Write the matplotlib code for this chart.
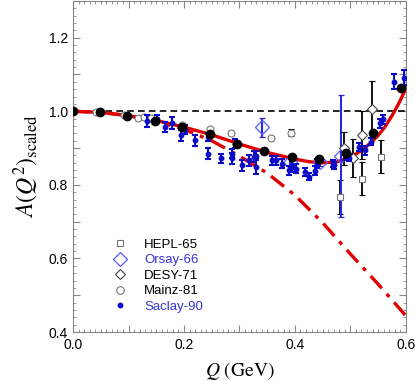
import numpy as np
import matplotlib
matplotlib.use('Agg')
import matplotlib.pyplot as plt
from matplotlib.ticker import MultipleLocator, FuncFormatter
from matplotlib.lines import Line2D

plt.rcParams['font.family'] = ['Liberation Sans', 'DejaVu Sans']
plt.rcParams['mathtext.fontset'] = 'stix'

# theory curves
q_full = [0.0, 0.05, 0.1, 0.15, 0.2, 0.25, 0.3, 0.35, 0.4, 0.425, 0.45, 0.475, 0.5,
          0.525, 0.55, 0.5625, 0.575, 0.5875, 0.6]
a_full = [1.0, 0.997, 0.988, 0.975, 0.957, 0.936, 0.911, 0.888, 0.870, 0.863, 0.860,
          0.862, 0.875, 0.898, 0.934, 0.958, 0.988, 1.022, 1.062]
q_lo = [0.0, 0.05, 0.1, 0.15, 0.2, 0.25, 0.3, 0.35, 0.4, 0.45, 0.5, 0.55, 0.6]
a_lo = [1.0, 0.997, 0.988, 0.973, 0.951, 0.920, 0.878, 0.832, 0.772, 0.697, 0.612, 0.530, 0.444]

# black points on the curve
q_fit = [0.0, 0.049, 0.098, 0.148, 0.197, 0.246, 0.295, 0.344, 0.394, 0.443, 0.492, 0.541, 0.591]
a_fit = [1.0, 0.997, 0.988, 0.974, 0.958, 0.939, 0.912, 0.891, 0.876, 0.870, 0.887, 0.941, 1.064]

# HEPL-65
q_hepl = [0.481, 0.521, 0.556]
a_hepl = [0.767, 0.817, 0.876]
e_hepl = [0.047, 0.045, 0.045]

# Orsay-66
q_orsay = [0.341, 0.392, 0.445, 0.483]
a_orsay = [0.956, 0.862, 0.862, 0.878]
e_orsay = [0.027, 0.010, 0.010, 0.165]

# DESY-71
q_desy = [0.488, 0.505, 0.521, 0.539]
a_desy = [0.899, 0.873, 0.935, 1.005]
e_desy = [0.046, 0.052, 0.066, 0.078]

# Mainz-81
q_mainz = [0.042, 0.091, 0.117, 0.128, 0.141, 0.197, 0.246, 0.285, 0.357, 0.393]
a_mainz = [0.997, 0.990, 0.982, 0.985, 0.981, 0.962, 0.952, 0.941, 0.928, 0.942]
e_mainz = [0.002, 0.002, 0.002, 0.002, 0.002, 0.003, 0.005, 0.005, 0.006, 0.009]

# Saclay-90
q_saclay = [0.133, 0.151, 0.165, 0.178, 0.194, 0.201, 0.219, 0.244, 0.244, 0.267,
            0.286, 0.287, 0.292, 0.304, 0.318, 0.327, 0.330, 0.330, 0.359, 0.366,
            0.377, 0.390, 0.394, 0.402, 0.419, 0.425, 0.437, 0.440, 0.468, 0.471,
            0.492, 0.497, 0.515, 0.527, 0.537, 0.554, 0.558, 0.579, 0.596]
a_saclay = [0.974, 0.980, 0.958, 0.968, 0.935, 0.950, 0.921, 0.930, 0.885, 0.872,
            0.885, 0.872, 0.912, 0.853, 0.867, 0.876, 0.849, 0.879, 0.867, 0.867,
            0.858, 0.840, 0.849, 0.844, 0.835, 0.822, 0.838, 0.858, 0.858, 0.853,
            0.880, 0.874, 0.903, 0.894, 0.917, 0.967, 0.978, 1.080, 1.091]
e_saclay = [0.016, 0.010, 0.014, 0.016, 0.015, 0.012, 0.015, 0.012, 0.015, 0.012,
            0.012, 0.015, 0.012, 0.015, 0.015, 0.015, 0.020, 0.012, 0.012, 0.012,
            0.012, 0.012, 0.015, 0.012, 0.012, 0.010, 0.012, 0.012, 0.010, 0.010,
            0.012, 0.010, 0.012, 0.012, 0.010, 0.012, 0.012, 0.020, 0.020]

blue = '#0a0ac8'
lblue = '#5a5aff'
red = '#e00000'

fig = plt.figure(figsize=(4.15, 3.81), dpi=100)
ax = fig.add_axes([0.176, 0.1286, 0.802, 0.869])

ax.plot([0, 0.6], [1.0, 1.0], color='black', lw=1.2, ls=(0, (4, 2.5)), zorder=2)
ax.plot(q_lo, a_lo, color=red, lw=2.4, ls=(0, (5, 2.2, 1.2, 2.2)), zorder=3)
ax.plot(q_full, a_full, color=red, lw=2.4, zorder=3)

ax.errorbar(q_hepl, a_hepl, yerr=e_hepl, fmt='s', ms=4.5, mfc='white', mec='#777777',
            mew=0.8, ecolor='black', elinewidth=1.3, capsize=2.5, capthick=1.3, zorder=4)
ax.errorbar(q_orsay, a_orsay, yerr=e_orsay, fmt='D', ms=7, mfc='none', mec=lblue,
            mew=0.9, ecolor='#2a2ad8', elinewidth=1.5, capsize=2.5, capthick=1.5, zorder=4)
ax.errorbar(q_desy, a_desy, yerr=e_desy, fmt='D', ms=5, mfc='white', mec='#444444',
            mew=0.8, ecolor='black', elinewidth=1.3, capsize=2.5, capthick=1.3, zorder=4)
ax.errorbar(q_mainz, a_mainz, yerr=e_mainz, fmt='o', ms=5, mfc='white', mec='#777777',
            mew=0.8, ecolor='black', elinewidth=1.3, capsize=2, capthick=1.3, zorder=4)
ax.errorbar(q_saclay, a_saclay, yerr=e_saclay, fmt='o', ms=3.2, mfc=blue, mec=blue,
            ecolor=blue, elinewidth=1.5, capsize=2.5, capthick=1.5, zorder=5)
ax.plot(q_fit, a_fit, 'o', ms=6, color='black', zorder=6)

ax.set_xlim(0, 0.6)
ax.set_ylim(0.4, 1.3)
ax.xaxis.set_major_locator(MultipleLocator(0.1))
ax.xaxis.set_minor_locator(MultipleLocator(0.01))
ax.yaxis.set_major_locator(MultipleLocator(0.1))
ax.yaxis.set_minor_locator(MultipleLocator(0.02))
even = lambda v, p: f'{v:.1f}' if round(v * 10) % 2 == 0 else ''
ax.xaxis.set_major_formatter(FuncFormatter(even))
ax.yaxis.set_major_formatter(FuncFormatter(even))
ax.tick_params(which='both', direction='in', top=True, right=True, color='#888888',
               labelsize=10, labelcolor='black')
ax.tick_params(which='major', length=5, width=0.8)
ax.tick_params(which='minor', length=2.5, width=0.6)
ax.tick_params(axis='x', pad=4)
for s in ax.spines.values():
    s.set_color('#888888')
    s.set_linewidth(0.8)

ax.set_xlabel(r'$Q\ \mathrm{(GeV)}$', fontsize=14, labelpad=6)
ax.set_ylabel(r'$A(Q^2)_{\rm scaled}$', fontsize=17, labelpad=6)

handles = [
    Line2D([], [], ls='none', marker='s', ms=4.5, mfc='white', mec='#777777', mew=0.8),
    Line2D([], [], ls='none', marker='D', ms=7, mfc='none', mec=lblue, mew=0.9),
    Line2D([], [], ls='none', marker='D', ms=5, mfc='white', mec='#444444', mew=0.8),
    Line2D([], [], ls='none', marker='o', ms=5.5, mfc='white', mec='#777777', mew=0.8),
    Line2D([], [], ls='none', marker='o', ms=3.2, mfc=blue, mec=blue),
]
labels = ['HEPL-65', 'Orsay-66', 'DESY-71', 'Mainz-81', 'Saclay-90']
ax.legend(handles, labels, loc='lower left', bbox_to_anchor=(0.095, 0.03), frameon=False,
          fontsize=9.5, handlelength=1.0, handletextpad=1.3, labelspacing=0.25,
          borderpad=0.2, labelcolor=['black', '#3333dd', 'black', 'black', '#3333dd'])

fig.savefig('out.png', dpi=100)
